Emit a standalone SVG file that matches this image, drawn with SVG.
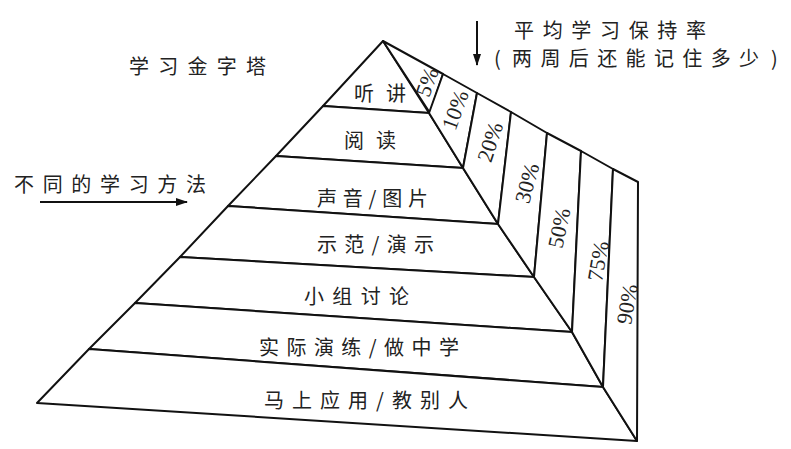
<svg xmlns="http://www.w3.org/2000/svg" width="791" height="449" viewBox="0 0 791 449">
<style>
.face{fill:#fff;stroke:#111;stroke-width:2;stroke-linejoin:round}
.lbl{font-family:"Noto Sans CJK SC","Noto Sans",sans-serif;font-size:20px;fill:#222;text-anchor:middle;dominant-baseline:central}
.pct{font-family:"Liberation Serif","DejaVu Serif",serif;font-size:22px;fill:#222;text-anchor:middle;dominant-baseline:central}
.title{font-family:"Noto Sans CJK SC","Noto Sans",sans-serif;font-size:20px;fill:#222;dominant-baseline:central}
.arrow{stroke:#111;stroke-width:2;fill:none}
</style>
<defs>
<marker id="ah" viewBox="0 0 12 10" refX="11" refY="5" markerWidth="12" markerHeight="10" markerUnits="userSpaceOnUse" orient="auto">
<path d="M0,1 L12,5 L0,9 Z" fill="#111"/>
</marker>
</defs>
<rect width="791" height="449" fill="#fff"/>

<g id="layer-listen">
<polygon class="face" points="383,41 323,106 429,113"/>
<text class="lbl" x="380" y="92" textLength="52" lengthAdjust="spacing">听讲</text>
</g>
<g id="layer-read">
<polygon class="face" points="323,106 429,113 463,168 276,156"/>
<text class="lbl" x="370" y="139" textLength="52" lengthAdjust="spacing">阅读</text>
</g>
<g id="layer-av">
<polygon class="face" points="276,156 463,168 498,224 228,206"/>
<text class="lbl" x="372.5" y="197" textLength="111" lengthAdjust="spacing">声音/图片</text>
</g>
<g id="layer-demo">
<polygon class="face" points="228,206 498,224 534,277 180,257"/>
<text class="lbl" x="375.5" y="243" textLength="117" lengthAdjust="spacing">示范/演示</text>
</g>
<g id="layer-discuss">
<polygon class="face" points="180,257 534,277 572,332 135,303"/>
<text class="lbl" x="356.5" y="295" textLength="105" lengthAdjust="spacing">小组讨论</text>
</g>
<g id="layer-practice">
<polygon class="face" points="135,303 572,332 603,387 89,349"/>
<text class="lbl" x="359" y="346" textLength="200" lengthAdjust="spacing">实际演练/做中学</text>
</g>
<g id="layer-teach">
<polygon class="face" points="89,349 603,387 637,441 37,403"/>
<text class="lbl" x="366" y="399" textLength="204" lengthAdjust="spacing">马上应用/教别人</text>
</g>

<g id="rate-5">
<polygon class="face" points="383,41 443,74 430,113"/>
<text class="pct" transform="translate(427,82) rotate(-70)">5%</text>
</g>
<g id="rate-10">
<polygon class="face" points="443,74 477,93 463,168 429,113"/>
<text class="pct" transform="translate(455,110) rotate(-70)">10%</text>
</g>
<g id="rate-20">
<polygon class="face" points="477,93 511,112 498,224 463,168"/>
<text class="pct" transform="translate(490,142) rotate(-72)">20%</text>
</g>
<g id="rate-30">
<polygon class="face" points="511,112 547,133 534,277 498,224"/>
<text class="pct" transform="translate(527,183) rotate(-75)">30%</text>
</g>
<g id="rate-50">
<polygon class="face" points="547,133 581,151 572,332 534,277"/>
<text class="pct" transform="translate(559,228) rotate(-78)">50%</text>
</g>
<g id="rate-75">
<polygon class="face" points="581,151 613,169 603,387 572,332"/>
<text class="pct" transform="translate(598,261) rotate(-80)">75%</text>
</g>
<g id="rate-90">
<polygon class="face" points="613,169 638,182 637,441 603,387"/>
<text class="pct" transform="translate(627,304) rotate(-80)">90%</text>
</g>

<g id="title-pyramid">
<text class="title" x="129" y="65" textLength="137" lengthAdjust="spacing">学习金字塔</text>
</g>
<g id="title-methods">
<text class="title" x="14" y="183" textLength="192" lengthAdjust="spacing">不同的学习方法</text>
</g>
<g id="title-rate">
<text class="title" x="514" y="29" textLength="192" lengthAdjust="spacing">平均学习保持率</text>
<text class="title" x="494" y="57">(</text>
<text class="title" x="512" y="57" textLength="247" lengthAdjust="spacing">两周后还能记住多少</text>
<text class="title" x="771" y="57">)</text>
</g>

<g id="connectors">
<line class="arrow" x1="40" y1="202" x2="187" y2="202" marker-end="url(#ah)"/>
<line class="arrow" x1="477" y1="21" x2="477" y2="65" marker-end="url(#ah)"/>
</g>
</svg>
